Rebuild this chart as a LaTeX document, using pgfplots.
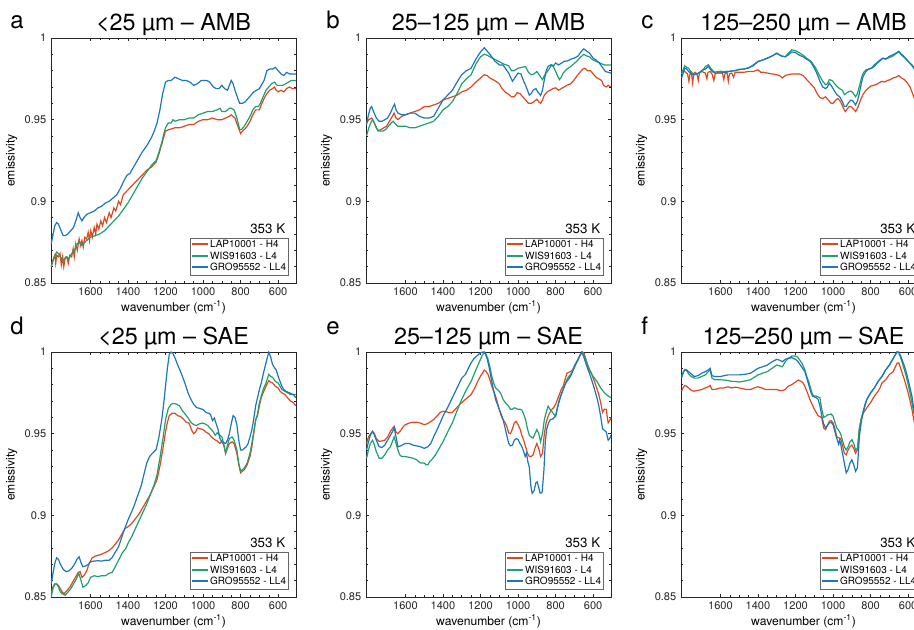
\documentclass[border=0pt]{standalone}
\usepackage{fontspec}
\setmainfont{TeX Gyre Heros}
\usepackage{pgfplots}
\pgfplotsset{compat=1.18}

\definecolor{cred}{RGB}{222,72,32}
\definecolor{cgreen}{RGB}{32,160,110}
\definecolor{cblue}{RGB}{28,118,188}
\definecolor{frame}{gray}{0.15}

\newcommand{\legline}[1]{\textcolor{#1}{\rule[0.25em]{12pt}{1.5pt}}\hspace{1.5pt}}

\pgfplotsset{
  panel/.style={
    scale only axis, width=183.75pt, height=183.75pt,
    anchor=south west,
    xmin=505, xmax=1810, ymin=0.85, ymax=1,
    x dir=reverse,
    xtick={600,800,1000,1200,1400,1600},
    ytick={0.85,0.9,0.95,1},
    minor x tick num=3, minor y tick num=4,
    tick align=inside,
    major tick length=2.6pt, minor tick length=1.5pt,
    axis line style={frame, line width=0.6pt},
    every tick/.style={frame, line width=0.4pt},
    /pgf/number format/assume math mode=true,
    /pgf/number format/1000 sep={},
    tick label style={font=\fontsize{8.3}{9}\selectfont, text=frame},
    label style={font=\fontsize{9.1}{10}\selectfont},
    xlabel={wavenumber (cm\textsuperscript{-1})},
    ylabel={emissivity},
    xlabel style={at={(axis description cs:0.5,0)}, anchor=base, yshift=-21.75pt},
    ylabel style={at={(axis description cs:-0.161,0.5)}, anchor=center},
    no markers,
    every axis plot/.append style={line width=0.9pt},
    extra description/.code={
      \node[anchor=base east, font=\fontsize{10}{11}\selectfont] at (0.975,0.2) {353 K};
      \node[anchor=south east, draw=black!60, line width=0.8pt, fill=white,
            inner xsep=1.5pt, inner ysep=0.8pt, font=\fontsize{7.5}{8.6}\selectfont]
        at (0.97,0.03) {\begin{tabular}{@{}l@{}}
          \legline{cred}LAP10001 - H4\\
          \legline{cgreen}WIS91603 - L4\\
          \legline{cblue}GRO95552 - LL4
        \end{tabular}};
    },
  }
}

\begin{document}
\begin{tikzpicture}
\path[use as bounding box] (0,0) rectangle (685.5pt,472.5pt);
\clip (0,0) rectangle (685.5pt,472.5pt);

% ---------------- a: <25 um AMB ----------------
\begin{axis}[panel, at={(38.25pt,260.25pt)}, name=pa]
\addplot[cred] coordinates {
(1809,0.860) (1800,0.864) (1790,0.867) (1785,0.862) (1780,0.867) (1770,0.866) (1762,0.868) (1755,0.861) (1748,0.866) (1742,0.860) (1735,0.865) (1725,0.866) (1718,0.862) (1710,0.867) (1700,0.866) (1692,0.871) (1686,0.866) (1678,0.874) (1670,0.870) (1660,0.877) (1652,0.873) (1645,0.876) (1638,0.872) (1630,0.878) (1620,0.877) (1612,0.881) (1605,0.876) (1598,0.882) (1590,0.878) (1580,0.884) (1572,0.880) (1565,0.886) (1555,0.883) (1545,0.888) (1535,0.885) (1525,0.890) (1515,0.887) (1500,0.893) (1490,0.890) (1475,0.896) (1465,0.894) (1450,0.900) (1440,0.898) (1425,0.904) (1400,0.907) (1375,0.910) (1350,0.913) (1325,0.916) (1300,0.919) (1275,0.921) (1250,0.924) (1235,0.929) (1220,0.935) (1210,0.939) (1200,0.943) (1180,0.944) (1150,0.945) (1125,0.945) (1100,0.946) (1075,0.947) (1050,0.947) (1025,0.949) (1000,0.950) (975,0.950) (950,0.951) (925,0.950) (900,0.950) (880,0.951) (860,0.952) (850,0.953) (840,0.952) (830,0.951) (815,0.946) (800,0.9415) (790,0.943) (780,0.944) (765,0.946) (750,0.949) (735,0.953) (720,0.956) (710,0.956) (700,0.956) (690,0.959) (675,0.963) (660,0.966) (645,0.968) (630,0.969) (620,0.970) (610,0.968) (600,0.967) (585,0.968) (570,0.967) (555,0.969) (540,0.970) (525,0.969) (505,0.969)
};
\addplot[cgreen] coordinates {
(1809,0.860) (1795,0.865) (1780,0.869) (1770,0.868) (1760,0.866) (1745,0.864) (1730,0.866) (1715,0.865) (1700,0.868) (1685,0.870) (1670,0.874) (1660,0.875) (1645,0.873) (1630,0.875) (1600,0.878) (1575,0.879) (1550,0.880) (1525,0.882) (1500,0.885) (1475,0.888) (1450,0.891) (1425,0.895) (1400,0.899) (1375,0.904) (1350,0.909) (1325,0.914) (1300,0.918) (1275,0.922) (1250,0.925) (1235,0.930) (1220,0.936) (1210,0.941) (1200,0.945) (1185,0.948) (1170,0.948) (1160,0.950) (1150,0.949) (1125,0.950) (1100,0.950) (1075,0.951) (1050,0.951) (1025,0.953) (1000,0.954) (975,0.955) (950,0.955) (925,0.956) (910,0.957) (900,0.955) (880,0.955) (860,0.957) (850,0.957) (835,0.956) (820,0.951) (805,0.944) (795,0.944) (780,0.946) (765,0.949) (750,0.952) (735,0.956) (720,0.958) (705,0.958) (695,0.960) (680,0.964) (665,0.968) (650,0.970) (635,0.972) (620,0.973) (605,0.971) (590,0.971) (575,0.971) (560,0.972) (545,0.973) (530,0.974) (515,0.974) (505,0.974)
};
\addplot[cblue] coordinates {
(1809,0.874) (1800,0.879) (1790,0.885) (1780,0.887) (1770,0.886) (1760,0.883) (1745,0.879) (1735,0.879) (1720,0.880) (1705,0.882) (1690,0.884) (1675,0.889) (1665,0.893) (1655,0.890) (1645,0.888) (1635,0.890) (1620,0.892) (1600,0.893) (1580,0.894) (1560,0.896) (1540,0.897) (1520,0.899) (1500,0.900) (1480,0.902) (1460,0.904) (1440,0.908) (1420,0.913) (1405,0.916) (1390,0.917) (1375,0.920) (1350,0.925) (1325,0.930) (1300,0.934) (1275,0.939) (1260,0.943) (1245,0.948) (1230,0.956) (1215,0.966) (1200,0.973) (1185,0.974) (1170,0.974) (1150,0.976) (1130,0.975) (1110,0.974) (1090,0.974) (1070,0.973) (1050,0.971) (1030,0.972) (1010,0.974) (995,0.974) (980,0.974) (965,0.973) (945,0.970) (930,0.969) (915,0.969) (900,0.971) (885,0.969) (870,0.968) (860,0.971) (850,0.974) (840,0.972) (830,0.968) (815,0.963) (805,0.960) (790,0.960) (775,0.961) (760,0.963) (745,0.965) (730,0.967) (715,0.968) (700,0.969) (690,0.971) (675,0.974) (660,0.980) (645,0.981) (630,0.981) (615,0.982) (600,0.980) (585,0.978) (570,0.977) (555,0.979) (540,0.978) (525,0.978) (505,0.978)
};
\end{axis}

% ---------------- b: 25-125 um AMB ----------------
\begin{axis}[panel, at={(274.5pt,260.25pt)}, name=pb]
\addplot[cred] coordinates {
(1807,0.948) (1795,0.950) (1780,0.951) (1770,0.949) (1760,0.946) (1745,0.943) (1730,0.944) (1715,0.945) (1700,0.946) (1685,0.949) (1670,0.952) (1660,0.954) (1650,0.951) (1640,0.950) (1620,0.952) (1600,0.953) (1575,0.954) (1550,0.955) (1525,0.956) (1500,0.958) (1475,0.958) (1450,0.959) (1425,0.960) (1400,0.962) (1375,0.963) (1350,0.964) (1325,0.965) (1300,0.967) (1275,0.968) (1250,0.970) (1225,0.973) (1200,0.9755) (1180,0.9775) (1165,0.977) (1150,0.9755) (1125,0.974) (1100,0.972) (1085,0.969) (1070,0.967) (1050,0.9655) (1035,0.964) (1020,0.964) (1005,0.9665) (990,0.966) (975,0.964) (960,0.962) (945,0.960) (930,0.960) (915,0.961) (900,0.9625) (890,0.961) (880,0.960) (870,0.962) (860,0.965) (845,0.967) (830,0.968) (815,0.969) (800,0.9695) (785,0.968) (770,0.969) (755,0.970) (740,0.971) (720,0.972) (700,0.9745) (685,0.977) (670,0.979) (655,0.981) (645,0.9815) (630,0.980) (615,0.980) (600,0.978) (585,0.976) (570,0.975) (555,0.974) (545,0.971) (530,0.970) (520,0.971) (505,0.970)
};
\addplot[cgreen] coordinates {
(1807,0.940) (1795,0.945) (1785,0.948) (1775,0.950) (1765,0.948) (1750,0.944) (1735,0.943) (1720,0.943) (1705,0.944) (1690,0.946) (1675,0.948) (1665,0.949) (1650,0.947) (1640,0.946) (1620,0.946) (1600,0.946) (1575,0.945) (1550,0.945) (1525,0.946) (1500,0.947) (1475,0.948) (1450,0.949) (1425,0.952) (1400,0.956) (1375,0.958) (1350,0.961) (1325,0.966) (1300,0.972) (1275,0.975) (1250,0.9775) (1225,0.984) (1200,0.9885) (1180,0.990) (1165,0.9895) (1150,0.9885) (1125,0.987) (1100,0.9855) (1075,0.984) (1050,0.983) (1035,0.980) (1020,0.980) (1000,0.9815) (980,0.982) (960,0.9825) (945,0.979) (930,0.9775) (915,0.978) (900,0.9795) (885,0.977) (870,0.9745) (860,0.977) (850,0.9785) (835,0.981) (820,0.9835) (810,0.982) (800,0.9795) (790,0.977) (780,0.9745) (770,0.976) (760,0.9785) (740,0.981) (720,0.9825) (700,0.9845) (685,0.986) (670,0.988) (650,0.990) (635,0.989) (620,0.9885) (600,0.9865) (580,0.9855) (560,0.9845) (540,0.9835) (520,0.9835) (505,0.9835)
};
\addplot[cblue] coordinates {
(1807,0.947) (1797,0.953) (1787,0.957) (1780,0.958) (1770,0.955) (1755,0.951) (1740,0.949) (1725,0.949) (1710,0.950) (1695,0.951) (1680,0.954) (1665,0.958) (1658,0.9595) (1650,0.956) (1640,0.954) (1620,0.953) (1600,0.953) (1575,0.954) (1550,0.954) (1525,0.952) (1500,0.951) (1475,0.951) (1450,0.952) (1425,0.957) (1400,0.962) (1375,0.965) (1350,0.968) (1325,0.973) (1300,0.9775) (1275,0.980) (1250,0.9815) (1225,0.987) (1200,0.9915) (1180,0.994) (1165,0.992) (1150,0.990) (1125,0.986) (1100,0.9835) (1080,0.9835) (1065,0.981) (1050,0.9785) (1040,0.976) (1030,0.9735) (1015,0.976) (1000,0.9785) (985,0.978) (970,0.9735) (960,0.971) (950,0.968) (940,0.965) (930,0.966) (920,0.968) (905,0.969) (895,0.967) (880,0.9648) (870,0.968) (860,0.9745) (850,0.980) (840,0.9826) (825,0.9836) (810,0.983) (800,0.9847) (785,0.9835) (770,0.9845) (755,0.9857) (735,0.986) (720,0.987) (700,0.9877) (680,0.989) (665,0.9915) (650,0.9933) (635,0.992) (620,0.9908) (600,0.9877) (585,0.9865) (570,0.985) (560,0.9836) (545,0.981) (535,0.9795) (520,0.979) (505,0.9785)
};
\end{axis}

% ---------------- c: 125-250 um AMB ----------------
\begin{axis}[panel, at={(510.75pt,260.25pt)}, name=pc]
\addplot[cred] coordinates {
(1807,0.9796) (1795,0.9800) (1785,0.979) (1775,0.978) (1768,0.9735) (1762,0.978) (1755,0.979) (1748,0.9725) (1742,0.978) (1735,0.979) (1725,0.978) (1718,0.974) (1712,0.9785) (1700,0.9795) (1690,0.979) (1680,0.9785) (1672,0.975) (1666,0.979) (1655,0.9795) (1645,0.978) (1635,0.974) (1628,0.978) (1615,0.979) (1600,0.9785) (1590,0.9788) (1582,0.9745) (1576,0.978) (1565,0.979) (1558,0.9735) (1552,0.978) (1540,0.9785) (1530,0.976) (1522,0.979) (1500,0.979) (1475,0.979) (1450,0.9795) (1425,0.9795) (1400,0.9805) (1385,0.979) (1370,0.979) (1350,0.9785) (1325,0.978) (1300,0.9775) (1285,0.977) (1270,0.9755) (1255,0.977) (1240,0.9775) (1220,0.978) (1200,0.978) (1180,0.978) (1160,0.977) (1140,0.9745) (1120,0.972) (1100,0.9695) (1085,0.966) (1070,0.9635) (1055,0.963) (1040,0.964) (1025,0.962) (1010,0.960) (1000,0.960) (985,0.962) (975,0.963) (960,0.961) (945,0.957) (935,0.955) (925,0.9565) (915,0.958) (905,0.958) (895,0.957) (880,0.955) (870,0.957) (860,0.960) (850,0.963) (840,0.9655) (825,0.968) (810,0.9695) (800,0.9705) (785,0.971) (770,0.9715) (755,0.9725) (740,0.9735) (725,0.973) (710,0.974) (695,0.9745) (680,0.9755) (665,0.976) (650,0.977) (635,0.9755) (620,0.9745) (605,0.9725) (590,0.970) (580,0.967) (570,0.964) (560,0.961) (540,0.958) (520,0.956) (505,0.955)
};
\addplot[cgreen] coordinates {
(1807,0.978) (1797,0.981) (1790,0.983) (1780,0.982) (1770,0.9815) (1755,0.979) (1740,0.978) (1725,0.978) (1710,0.979) (1695,0.980) (1680,0.9825) (1665,0.9836) (1655,0.982) (1645,0.9805) (1630,0.979) (1615,0.9795) (1600,0.9796) (1575,0.9795) (1550,0.9797) (1525,0.980) (1500,0.9808) (1475,0.981) (1450,0.9818) (1425,0.983) (1400,0.9855) (1375,0.9865) (1350,0.9876) (1325,0.989) (1300,0.9908) (1275,0.989) (1255,0.9885) (1240,0.9905) (1220,0.9928) (1200,0.9922) (1180,0.991) (1160,0.9895) (1140,0.9875) (1120,0.986) (1100,0.983) (1085,0.980) (1070,0.9765) (1055,0.9735) (1040,0.9714) (1030,0.972) (1020,0.9745) (1005,0.974) (995,0.9725) (980,0.9704) (965,0.969) (950,0.968) (940,0.9653) (930,0.966) (920,0.967) (905,0.9675) (895,0.9665) (880,0.964) (870,0.966) (860,0.9704) (850,0.975) (840,0.9785) (825,0.9805) (810,0.981) (795,0.9815) (780,0.9826) (765,0.9845) (750,0.986) (735,0.9875) (720,0.9872) (700,0.988) (680,0.989) (660,0.9908) (650,0.9918) (640,0.990) (625,0.9885) (610,0.987) (600,0.9857) (590,0.9845) (580,0.983) (570,0.9815) (560,0.980) (540,0.978) (505,0.976)
};
\addplot[cblue] coordinates {
(1807,0.9755) (1797,0.979) (1790,0.9816) (1780,0.981) (1770,0.9796) (1755,0.978) (1740,0.9775) (1725,0.978) (1710,0.979) (1695,0.9805) (1680,0.981) (1665,0.9826) (1655,0.981) (1645,0.9796) (1630,0.9785) (1615,0.9785) (1600,0.9785) (1575,0.979) (1550,0.9795) (1525,0.980) (1500,0.9806) (1475,0.981) (1450,0.9816) (1425,0.9835) (1400,0.9857) (1375,0.9865) (1350,0.9877) (1325,0.989) (1300,0.9905) (1275,0.989) (1255,0.9885) (1240,0.9895) (1220,0.9915) (1200,0.991) (1180,0.9895) (1160,0.9885) (1140,0.987) (1120,0.9855) (1100,0.9816) (1085,0.978) (1070,0.9735) (1055,0.970) (1040,0.969) (1030,0.970) (1020,0.9724) (1005,0.970) (995,0.968) (980,0.9653) (965,0.964) (950,0.961) (940,0.958) (930,0.958) (920,0.960) (905,0.962) (895,0.9615) (880,0.959) (870,0.9615) (860,0.966) (850,0.972) (840,0.9765) (825,0.9795) (810,0.981) (795,0.9815) (780,0.9836) (765,0.985) (750,0.9865) (735,0.9877) (720,0.987) (700,0.9888) (680,0.9898) (660,0.991) (650,0.9918) (640,0.9905) (625,0.989) (610,0.987) (600,0.9857) (590,0.9845) (580,0.9836) (570,0.982) (560,0.9816) (540,0.980) (505,0.978)
};
\end{axis}

% ---------------- d: <25 um SAE ----------------
\begin{axis}[panel, at={(38.25pt,24.75pt)}, name=pd]
\addplot[cred] coordinates {
(1809,0.852) (1800,0.856) (1790,0.858) (1780,0.858) (1770,0.857) (1760,0.855) (1750,0.853) (1740,0.852) (1725,0.854) (1710,0.856) (1695,0.859) (1680,0.862) (1665,0.865) (1655,0.8655) (1645,0.862) (1635,0.863) (1620,0.866) (1605,0.871) (1590,0.874) (1575,0.875) (1560,0.8755) (1545,0.876) (1525,0.877) (1500,0.8785) (1485,0.880) (1470,0.882) (1450,0.885) (1430,0.889) (1415,0.892) (1400,0.893) (1380,0.895) (1360,0.898) (1340,0.901) (1320,0.905) (1300,0.909) (1280,0.913) (1260,0.918) (1245,0.922) (1230,0.930) (1215,0.940) (1200,0.951) (1190,0.957) (1180,0.961) (1165,0.9625) (1150,0.9625) (1135,0.961) (1120,0.9605) (1105,0.959) (1090,0.957) (1075,0.9565) (1060,0.952) (1050,0.950) (1040,0.951) (1030,0.9535) (1015,0.953) (1000,0.9525) (985,0.951) (970,0.950) (955,0.948) (940,0.9465) (925,0.9455) (910,0.944) (900,0.9455) (890,0.943) (880,0.938) (870,0.941) (860,0.944) (845,0.945) (835,0.944) (820,0.938) (810,0.931) (800,0.926) (790,0.927) (780,0.928) (765,0.931) (750,0.936) (740,0.942) (730,0.950) (720,0.9585) (710,0.961) (700,0.967) (690,0.972) (680,0.975) (665,0.979) (650,0.9825) (640,0.9815) (630,0.981) (615,0.979) (600,0.978) (590,0.976) (580,0.975) (565,0.974) (550,0.972) (535,0.970) (520,0.969) (505,0.967)
};
\addplot[cgreen] coordinates {
(1809,0.850) (1800,0.855) (1790,0.858) (1780,0.858) (1770,0.856) (1760,0.853) (1750,0.852) (1735,0.851) (1720,0.853) (1705,0.855) (1690,0.858) (1675,0.861) (1662,0.8645) (1650,0.860) (1640,0.856) (1625,0.857) (1610,0.859) (1600,0.862) (1580,0.863) (1560,0.8625) (1540,0.863) (1520,0.863) (1500,0.8645) (1485,0.865) (1470,0.868) (1450,0.8725) (1430,0.877) (1410,0.880) (1400,0.8828) (1380,0.887) (1360,0.892) (1340,0.897) (1320,0.902) (1300,0.907) (1280,0.913) (1260,0.919) (1245,0.925) (1230,0.935) (1215,0.946) (1200,0.9586) (1185,0.9655) (1170,0.968) (1155,0.9685) (1140,0.968) (1125,0.967) (1110,0.964) (1095,0.962) (1080,0.9596) (1065,0.957) (1050,0.9555) (1035,0.955) (1020,0.956) (1005,0.9565) (990,0.956) (975,0.955) (960,0.953) (945,0.951) (935,0.949) (925,0.9505) (910,0.949) (900,0.948) (890,0.944) (880,0.938) (870,0.943) (860,0.947) (845,0.948) (835,0.946) (820,0.940) (810,0.932) (800,0.927) (790,0.928) (780,0.929) (765,0.932) (750,0.938) (740,0.9443) (730,0.951) (720,0.958) (710,0.962) (700,0.9689) (690,0.973) (680,0.977) (665,0.981) (650,0.9863) (640,0.985) (630,0.9845) (615,0.982) (600,0.981) (590,0.979) (580,0.977) (565,0.976) (550,0.975) (535,0.974) (520,0.974) (505,0.974)
};
\addplot[cblue] coordinates {
(1809,0.858) (1800,0.864) (1790,0.8705) (1780,0.874) (1770,0.873) (1760,0.870) (1745,0.867) (1730,0.8655) (1715,0.866) (1700,0.8675) (1685,0.870) (1670,0.8735) (1660,0.8746) (1650,0.871) (1640,0.8685) (1625,0.869) (1610,0.870) (1600,0.8715) (1580,0.872) (1560,0.8722) (1540,0.872) (1520,0.8725) (1500,0.8725) (1485,0.874) (1470,0.877) (1450,0.8807) (1435,0.886) (1420,0.891) (1400,0.8971) (1385,0.901) (1370,0.905) (1350,0.9115) (1330,0.918) (1315,0.925) (1300,0.932) (1285,0.936) (1270,0.938) (1250,0.9402) (1235,0.948) (1220,0.9586) (1210,0.968) (1200,0.979) (1190,0.990) (1180,0.9986) (1170,1.000) (1160,0.999) (1150,0.9965) (1135,0.992) (1120,0.988) (1110,0.985) (1100,0.982) (1090,0.9785) (1080,0.975) (1065,0.971) (1050,0.968) (1035,0.966) (1020,0.9655) (1000,0.9648) (985,0.963) (970,0.9625) (960,0.9617) (950,0.958) (940,0.9596) (930,0.956) (920,0.9525) (910,0.947) (900,0.945) (890,0.9445) (880,0.944) (870,0.946) (860,0.950) (850,0.956) (840,0.961) (830,0.960) (820,0.9555) (810,0.946) (800,0.940) (790,0.940) (780,0.941) (770,0.942) (760,0.944) (750,0.948) (740,0.9525) (730,0.959) (720,0.967) (710,0.972) (700,0.977) (690,0.981) (680,0.9863) (670,0.991) (660,0.9955) (650,1.000) (640,0.997) (630,0.9924) (620,0.9905) (610,0.989) (600,0.985) (590,0.982) (580,0.979) (570,0.977) (560,0.976) (550,0.9755) (540,0.975) (530,0.9745) (520,0.974) (505,0.972)
};
\end{axis}

% ---------------- e: 25-125 um SAE ----------------
\begin{axis}[panel, at={(274.5pt,24.75pt)}, name=pe]
\addplot[cred] coordinates {
(1807,0.944) (1797,0.948) (1785,0.950) (1775,0.9514) (1765,0.950) (1755,0.947) (1740,0.9453) (1725,0.9455) (1710,0.946) (1695,0.948) (1680,0.9514) (1670,0.953) (1660,0.9545) (1650,0.951) (1640,0.950) (1625,0.952) (1610,0.9545) (1600,0.9555) (1580,0.9565) (1560,0.957) (1540,0.957) (1520,0.9565) (1500,0.9555) (1485,0.956) (1470,0.957) (1450,0.9586) (1430,0.961) (1415,0.963) (1400,0.9637) (1385,0.9635) (1370,0.963) (1350,0.963) (1330,0.9655) (1310,0.968) (1300,0.969) (1280,0.971) (1260,0.973) (1250,0.974) (1230,0.978) (1215,0.982) (1200,0.9852) (1190,0.987) (1180,0.9889) (1170,0.988) (1160,0.9863) (1150,0.983) (1140,0.979) (1130,0.976) (1120,0.973) (1110,0.969) (1100,0.9648) (1090,0.961) (1080,0.9586) (1070,0.957) (1060,0.9545) (1050,0.9505) (1040,0.950) (1030,0.953) (1020,0.9566) (1010,0.9575) (1000,0.9555) (990,0.953) (980,0.949) (970,0.946) (960,0.942) (950,0.938) (940,0.936) (930,0.936) (920,0.937) (910,0.941) (900,0.944) (890,0.941) (880,0.936) (870,0.938) (860,0.950) (850,0.957) (840,0.9607) (830,0.963) (820,0.9648) (810,0.966) (800,0.968) (790,0.971) (780,0.974) (770,0.977) (760,0.979) (750,0.983) (740,0.987) (730,0.9875) (720,0.988) (710,0.989) (700,0.9914) (690,0.9935) (680,0.9955) (670,0.998) (660,1.000) (650,0.9995) (640,0.996) (630,0.9924) (620,0.9895) (610,0.987) (600,0.984) (590,0.981) (580,0.9775) (570,0.974) (560,0.969) (550,0.9631) (540,0.965) (530,0.9648) (525,0.960) (520,0.9566) (512,0.958) (505,0.960)
};
\addplot[cgreen] coordinates {
(1807,0.935) (1797,0.940) (1787,0.944) (1775,0.946) (1765,0.943) (1755,0.939) (1740,0.935) (1725,0.935) (1710,0.937) (1695,0.940) (1680,0.942) (1670,0.945) (1660,0.948) (1650,0.944) (1640,0.940) (1630,0.937) (1620,0.936) (1600,0.936) (1580,0.9355) (1560,0.935) (1540,0.934) (1520,0.932) (1500,0.932) (1490,0.931) (1480,0.931) (1470,0.933) (1460,0.934) (1440,0.937) (1420,0.941) (1400,0.945) (1375,0.951) (1350,0.9566) (1325,0.964) (1300,0.971) (1275,0.977) (1250,0.982) (1225,0.989) (1200,0.9955) (1190,0.998) (1180,1.000) (1170,0.9985) (1160,0.9955) (1150,0.991) (1140,0.9852) (1130,0.981) (1120,0.978) (1110,0.977) (1100,0.976) (1090,0.974) (1080,0.971) (1065,0.9685) (1050,0.9668) (1040,0.9648) (1030,0.965) (1020,0.9658) (1010,0.9655) (1000,0.9648) (990,0.965) (980,0.9645) (970,0.962) (960,0.9586) (950,0.953) (940,0.949) (930,0.948) (920,0.9473) (910,0.950) (900,0.9525) (890,0.950) (880,0.945) (870,0.950) (860,0.9586) (850,0.963) (840,0.9668) (830,0.965) (820,0.9637) (810,0.962) (800,0.9607) (790,0.966) (780,0.971) (770,0.974) (760,0.977) (750,0.980) (740,0.983) (730,0.985) (720,0.9863) (710,0.988) (700,0.9904) (690,0.993) (680,0.9955) (670,0.998) (660,1.000) (650,0.998) (640,0.9955) (630,0.992) (620,0.989) (610,0.987) (600,0.985) (590,0.9835) (580,0.982) (570,0.980) (560,0.978) (550,0.9765) (540,0.975) (530,0.974) (520,0.973) (505,0.972)
};
\addplot[cblue] coordinates {
(1807,0.940) (1797,0.945) (1787,0.949) (1775,0.9514) (1765,0.949) (1755,0.946) (1740,0.942) (1725,0.9415) (1710,0.943) (1695,0.946) (1680,0.949) (1670,0.951) (1660,0.9535) (1650,0.948) (1640,0.942) (1625,0.9425) (1610,0.9435) (1600,0.944) (1580,0.944) (1560,0.943) (1540,0.9425) (1520,0.942) (1500,0.941) (1480,0.942) (1465,0.944) (1450,0.948) (1425,0.954) (1400,0.9607) (1375,0.966) (1350,0.972) (1325,0.978) (1300,0.984) (1280,0.9863) (1265,0.990) (1250,0.9934) (1235,0.996) (1220,0.9975) (1200,0.9996) (1185,1.000) (1175,0.999) (1165,0.996) (1155,0.991) (1145,0.985) (1135,0.979) (1120,0.971) (1110,0.968) (1100,0.9648) (1090,0.962) (1080,0.9586) (1070,0.954) (1060,0.949) (1050,0.944) (1040,0.9425) (1030,0.943) (1020,0.946) (1010,0.947) (1000,0.9465) (990,0.944) (980,0.9422) (970,0.939) (962,0.936) (955,0.938) (948,0.933) (940,0.9293) (932,0.918) (925,0.9135) (915,0.915) (905,0.920) (898,0.9205) (890,0.917) (882,0.9135) (872,0.914) (862,0.928) (855,0.945) (848,0.9525) (838,0.9565) (828,0.9586) (815,0.959) (800,0.9607) (790,0.966) (780,0.970) (770,0.974) (760,0.977) (750,0.980) (740,0.982) (730,0.9835) (720,0.9852) (710,0.988) (700,0.9914) (690,0.9935) (680,0.9955) (670,0.998) (660,1.000) (650,0.997) (640,0.9934) (630,0.990) (620,0.987) (610,0.9835) (600,0.980) (590,0.976) (580,0.972) (570,0.967) (560,0.9607) (550,0.953) (545,0.9525) (540,0.952) (530,0.951) (520,0.946) (512,0.947) (505,0.949)
};
\end{axis}

% ---------------- f: 125-250 um SAE ----------------
\begin{axis}[panel, at={(510.75pt,24.75pt)}, name=pf]
\addplot[cred] coordinates {
(1807,0.976) (1797,0.9785) (1790,0.9795) (1780,0.979) (1770,0.978) (1755,0.9765) (1740,0.976) (1720,0.9765) (1700,0.977) (1680,0.978) (1665,0.9787) (1655,0.9795) (1645,0.977) (1630,0.977) (1615,0.9775) (1600,0.978) (1580,0.978) (1560,0.9787) (1540,0.978) (1520,0.9785) (1500,0.978) (1480,0.9775) (1460,0.977) (1440,0.977) (1420,0.978) (1400,0.9787) (1380,0.978) (1360,0.977) (1340,0.977) (1320,0.977) (1300,0.977) (1285,0.9765) (1270,0.9764) (1255,0.977) (1240,0.979) (1220,0.980) (1200,0.9816) (1185,0.9828) (1170,0.982) (1160,0.9811) (1150,0.979) (1140,0.976) (1130,0.973) (1120,0.970) (1110,0.9675) (1100,0.965) (1090,0.963) (1080,0.961) (1070,0.9605) (1060,0.9596) (1050,0.9535) (1040,0.9525) (1030,0.955) (1020,0.9576) (1010,0.958) (1000,0.9566) (990,0.953) (980,0.948) (970,0.9475) (960,0.947) (950,0.943) (940,0.938) (930,0.937) (920,0.940) (910,0.942) (900,0.943) (890,0.941) (880,0.938) (870,0.940) (860,0.9535) (850,0.959) (840,0.9627) (830,0.964) (820,0.9658) (810,0.9675) (800,0.969) (790,0.971) (780,0.973) (770,0.9745) (760,0.976) (750,0.978) (740,0.981) (730,0.982) (720,0.983) (710,0.9845) (700,0.9863) (690,0.987) (680,0.988) (670,0.9905) (660,0.993) (650,0.9934) (640,0.990) (630,0.9865) (620,0.983) (610,0.979) (600,0.975) (590,0.970) (580,0.965) (570,0.9586) (560,0.953) (540,0.945) (505,0.940)
};
\addplot[cgreen] coordinates {
(1807,0.985) (1797,0.988) (1790,0.989) (1780,0.9885) (1770,0.9867) (1755,0.985) (1740,0.984) (1720,0.984) (1700,0.985) (1680,0.986) (1665,0.988) (1655,0.989) (1645,0.984) (1630,0.983) (1615,0.983) (1600,0.983) (1580,0.9828) (1560,0.9826) (1540,0.982) (1520,0.982) (1500,0.9816) (1480,0.982) (1460,0.9825) (1440,0.983) (1420,0.9845) (1400,0.986) (1375,0.987) (1350,0.988) (1325,0.990) (1300,0.992) (1285,0.9915) (1270,0.991) (1255,0.994) (1240,0.996) (1220,0.9975) (1200,0.9975) (1190,0.997) (1180,0.9955) (1165,0.993) (1150,0.989) (1140,0.985) (1130,0.982) (1120,0.978) (1110,0.974) (1100,0.973) (1090,0.973) (1080,0.9725) (1070,0.972) (1060,0.9648) (1050,0.960) (1040,0.9605) (1030,0.9615) (1020,0.9617) (1010,0.962) (1000,0.9607) (990,0.957) (980,0.9535) (970,0.952) (960,0.950) (950,0.946) (940,0.942) (930,0.940) (920,0.942) (910,0.945) (900,0.9463) (890,0.944) (880,0.940) (870,0.941) (860,0.9525) (850,0.959) (840,0.9637) (830,0.968) (820,0.971) (810,0.973) (800,0.975) (790,0.9765) (780,0.978) (770,0.980) (760,0.982) (750,0.9835) (740,0.985) (730,0.987) (720,0.989) (710,0.9905) (700,0.992) (690,0.994) (680,0.996) (670,0.998) (660,1.000) (650,0.9995) (640,0.9965) (630,0.993) (620,0.989) (610,0.985) (600,0.980) (590,0.975) (580,0.969) (570,0.963) (560,0.958) (540,0.950) (505,0.940)
};
\addplot[cblue] coordinates {
(1807,0.984) (1797,0.9875) (1790,0.9893) (1780,0.989) (1770,0.988) (1755,0.9865) (1740,0.985) (1720,0.9855) (1700,0.987) (1680,0.988) (1665,0.989) (1655,0.990) (1645,0.9855) (1630,0.985) (1615,0.985) (1600,0.985) (1580,0.9855) (1560,0.986) (1540,0.986) (1520,0.986) (1500,0.986) (1480,0.9862) (1460,0.9865) (1440,0.987) (1420,0.9885) (1400,0.990) (1375,0.991) (1350,0.992) (1325,0.994) (1300,0.9955) (1285,0.995) (1270,0.994) (1255,0.9955) (1240,0.996) (1220,0.9965) (1200,0.9955) (1190,0.9945) (1180,0.993) (1165,0.9905) (1150,0.988) (1140,0.984) (1130,0.980) (1120,0.976) (1110,0.973) (1100,0.9725) (1090,0.972) (1080,0.971) (1070,0.967) (1060,0.9607) (1050,0.956) (1040,0.9535) (1030,0.955) (1020,0.9566) (1010,0.957) (1000,0.9555) (990,0.951) (980,0.947) (970,0.9435) (965,0.946) (960,0.944) (950,0.938) (940,0.932) (930,0.926) (920,0.928) (910,0.932) (900,0.934) (890,0.931) (880,0.927) (870,0.9293) (860,0.948) (850,0.957) (840,0.9627) (830,0.967) (820,0.971) (810,0.973) (800,0.975) (790,0.9765) (780,0.978) (770,0.980) (760,0.982) (750,0.9835) (740,0.985) (730,0.987) (720,0.989) (710,0.9905) (700,0.992) (690,0.994) (680,0.996) (670,0.998) (660,1.000) (650,1.000) (640,0.9975) (630,0.9945) (620,0.9914) (610,0.9875) (600,0.983) (590,0.978) (580,0.973) (570,0.965) (560,0.958) (540,0.950) (505,0.940)
};
\end{axis}

% ---------------- titles and panel letters ----------------
\tikzset{ttl/.style={anchor=base, font=\fontsize{17.5}{20}\selectfont},
         let/.style={anchor=base west, inner sep=0pt, font=\fontsize{18}{20}\selectfont}}
\node[ttl] at ([yshift=5.6pt]pa.north) {<25 µm – AMB};
\node[ttl] at ([yshift=5.6pt]pb.north) {25–125 µm – AMB};
\node[ttl] at ([yshift=5.6pt]pc.north) {125–250 µm – AMB};
\node[ttl] at ([yshift=5.6pt]pd.north) {<25 µm – SAE};
\node[ttl] at ([yshift=5.6pt]pe.north) {25–125 µm – SAE};
\node[ttl] at ([yshift=5.6pt]pf.north) {125–250 µm – SAE};
\node[let] at (7.5pt,451pt) {a};
\node[let] at (244.5pt,451pt) {b};
\node[let] at (480.75pt,451pt) {c};
\node[let] at (7.5pt,221.25pt) {d};
\node[let] at (244.5pt,221.25pt) {e};
\node[let] at (480.75pt,221.25pt) {f};
\end{tikzpicture}
\end{document}
